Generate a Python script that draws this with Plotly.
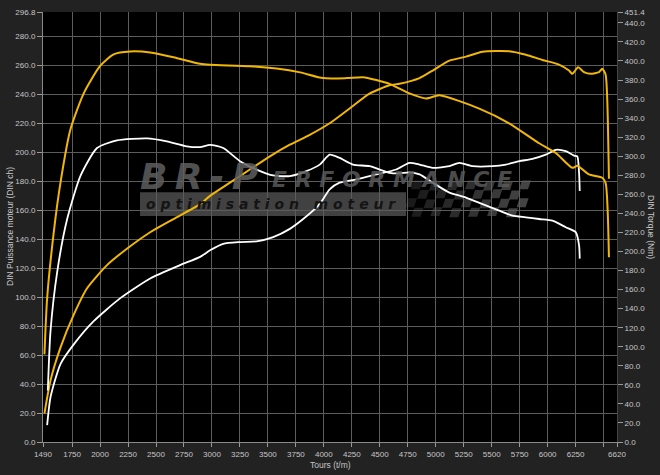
import plotly.graph_objects as go

# ---------------- data ----------------
rpm_yellow_torque = [1503, 1527, 1586, 1646, 1735, 1854, 2002, 2121, 2270, 2448, 2656, 2894, 2983,
                     3339, 3577, 3789, 3993, 4201, 4349, 4469, 4587, 4765, 4914, 5033, 5389, 5656,
                     5924, 6073, 6221, 6265, 6369, 6488, 6518, 6548]
yellow_torque = [92, 151, 220, 272, 328, 366, 395, 407, 410, 409, 404, 397, 396,
                 394.5, 392, 388, 382, 382, 383, 380, 376, 366, 360.6, 364, 350, 334.6,
                 313.6, 303.4, 287.8, 290, 280.9, 277.4, 272, 194]

rpm_yellow_power = [1503, 1557, 1646, 1765, 1884, 2062, 2240, 2448, 2656, 2894, 2983, 3161, 3339,
                    3518, 3696, 3874, 4052, 4230, 4408, 4587, 4677, 4855, 4973, 5122, 5271, 5419,
                    5657, 5806, 5953, 6102, 6191, 6221, 6272, 6325, 6385, 6459, 6488, 6518, 6533, 6548]
yellow_power = [19.6, 42.4, 65.1, 87.9, 106.1, 122.1, 133.4, 144.8, 153.9, 164.2, 169.9, 179, 188.1,
                197.2, 205.2, 212, 220, 230.2, 240.5, 246.2, 247.3, 251.2, 256.4, 263.2, 266, 269.4,
                269.7, 267.3, 263.7, 260.5, 256.4, 254.1, 258.7, 255.3, 254.1, 255.3, 257.6, 253.7, 235.9, 181.7]

rpm_white_torque = [1533, 1557, 1617, 1706, 1824, 1973, 2151, 2419, 2597, 2775, 2894, 2983, 3101,
                    3250, 3399, 3547, 3696, 3844, 3963, 4052, 4141, 4260, 4408, 4587, 4677, 4766,
                    4856, 4973, 5122, 5271, 5419, 5567, 5686, 5805, 5924, 6043, 6162, 6251, 6281, 6287]
white_torque = [54, 116.4, 178.7, 234.1, 279.2, 308.6, 316.6, 318.7, 315.6, 310.4, 309.6, 312, 308.6,
                294.8, 286, 279.8, 279.2, 284.4, 291.2, 301.6, 298.2, 291.2, 289.5, 282.6, 282, 283,
                280.9, 272.2, 261.8, 256.6, 249.7, 242.8, 237.6, 235.9, 234.1, 232.4, 225.5, 220.3, 206.5, 192.5]

rpm_white_power = [1527, 1557, 1646, 1765, 1943, 2181, 2448, 2715, 2894, 2983, 3101, 3250, 3399,
                   3547, 3696, 3815, 3934, 3993, 4052, 4141, 4290, 4469, 4647, 4766, 4856, 4973,
                   5122, 5211, 5330, 5508, 5627, 5746, 5864, 5984, 6073, 6162, 6236, 6265, 6281, 6287]
white_power = [11.6, 30.9, 53.8, 67.4, 83.4, 99.3, 112.9, 122.1, 127.8, 132.3, 136.8, 138, 138.5,
               141.4, 147.1, 153.9, 161.9, 167.6, 174.4, 179, 181.3, 184.7, 188.1, 192.7, 191.5, 189.2,
               190.4, 192.7, 190.4, 190.4, 191.5, 193.8, 195.4, 198.3, 201.7, 200.7, 197.7, 197.2, 185.8, 173.3]

x_ticks = [1490, 1750, 2000, 2250, 2500, 2750, 3000, 3250, 3500, 3750, 4000, 4250, 4500,
           4750, 5000, 5250, 5500, 5750, 6000, 6250, 6500, 6620]
x_tick_labels = ["1490", "1750", "2000", "2250", "2500", "2750", "3000", "3250", "3500", "3750",
                 "4000", "4250", "4500", "4750", "5000", "5250", "5500", "5750", "6000", "6250", "", "6620"]
y_left_ticks = [0, 20, 40, 60, 80, 100, 120, 140, 160, 180, 200, 220, 240, 260, 280, 296.8]
y_right_ticks = [0, 20, 40, 60, 80, 100, 120, 140, 160, 180, 200, 220, 240, 260, 280, 300,
                 320, 340, 360, 380, 400, 420, 440, 451.4]

X_RANGE = [1490, 6620]
YL_RANGE = [0, 296.8]
YR_RANGE = [0, 451.4]

YELLOW = "#f2b705"
WHITE = "#ffffff"
GRID = "#5c5c5c"
TXT = "#c6c6c6"
FONT = "Liberation Sans, Arial, sans-serif"

# ---------------- figure ----------------
fig = go.Figure()
line_kw = dict(shape="spline", smoothing=0.6)
fig.add_trace(go.Scatter(x=rpm_yellow_torque, y=yellow_torque, yaxis="y2", mode="lines",
                         line=dict(color=YELLOW, width=2, **line_kw), hoverinfo="skip"))
fig.add_trace(go.Scatter(x=rpm_yellow_power, y=yellow_power, yaxis="y", mode="lines",
                         line=dict(color=YELLOW, width=2, **line_kw), hoverinfo="skip"))
fig.add_trace(go.Scatter(x=rpm_white_torque, y=white_torque, yaxis="y2", mode="lines",
                         line=dict(color=WHITE, width=1.8, **line_kw), hoverinfo="skip"))
fig.add_trace(go.Scatter(x=rpm_white_power, y=white_power, yaxis="y", mode="lines",
                         line=dict(color=WHITE, width=1.8, **line_kw), hoverinfo="skip"))

ML, MR, MT, MB = 43, 43, 8, 33
W, H = 660, 475
PW, PH = W - ML - MR, H - MT - MB


def px(xp):
    return (xp - ML) / PW


def py(yp):
    return (H - MB - yp) / PH


shapes = []
# logo bar
shapes.append(dict(type="rect", xref="paper", yref="paper", layer="below",
                   x0=px(140), x1=px(406), y0=py(214), y1=py(190),
                   fillcolor="#4c4c4c", line=dict(width=0), opacity=0.85))
# checkered flag (decoration)
cell = 9.0
rows = 4
cols = 13
x_start, y_top = 402, 178
for i in range(rows):
    for j in range(cols):
        if (i + j) % 2:
            continue
        skew = 3.0 * (rows - i)
        x0 = x_start + j * cell + skew + 0.15 * j * i
        y0 = y_top + i * cell + 0.6 * (j % 3)
        x1 = x0 + cell
        y1 = y0 + cell
        path = (f"M {px(x0)} {py(y0)} L {px(x1)} {py(y0)} L {px(x1 - 3)} {py(y1)} "
                f"L {px(x0 - 3)} {py(y1)} Z")
        shapes.append(dict(type="path", xref="paper", yref="paper", layer="below", path=path,
                           fillcolor="#555555", line=dict(width=0),
                           opacity=0.3 + 0.5 * (j / (cols - 1))))

annotations = [
    dict(text="<b><i>B\u2009R\u2009-\u2009P</i></b>", x=px(138), y=py(174), xref="paper", yref="paper",
         xanchor="left", yanchor="middle", showarrow=False,
         font=dict(family="DejaVu Sans, sans-serif", size=36, color="rgba(95,95,95,0.85)")),
    dict(text="<b><i>E R F O R M A N C E</i></b>", x=px(270), y=py(177), xref="paper", yref="paper",
         xanchor="left", yanchor="middle", showarrow=False,
         font=dict(family="DejaVu Sans, sans-serif", size=22, color="rgba(90,90,90,0.85)")),
    dict(text="<b><i>o p t i m i s a t i o n   m o t e u r</i></b>", x=px(144), y=py(202),
         xref="paper", yref="paper", xanchor="left", yanchor="middle", showarrow=False,
         font=dict(family="DejaVu Sans, sans-serif", size=14, color="#141414")),
    dict(text="DIN Puissance moteur (DIN ch)", x=px(10), y=0.5, xref="paper", yref="paper",
         xanchor="center", yanchor="middle", textangle=-90, showarrow=False,
         font=dict(family=FONT, size=8.5, color=TXT)),
    dict(text="DIN Torque (Nm)", x=px(651), y=0.5, xref="paper", yref="paper",
         xanchor="center", yanchor="middle", textangle=90, showarrow=False,
         font=dict(family=FONT, size=8.5, color=TXT)),
    dict(text="Tours (t/m)", x=0.5, y=py(465), xref="paper", yref="paper",
         xanchor="center", yanchor="middle", showarrow=False,
         font=dict(family=FONT, size=8.5, color=TXT)),
]

fig.update_layout(
    width=W, height=H,
    margin=dict(l=ML, r=MR, t=MT, b=MB, pad=0),
    paper_bgcolor="#222222",
    plot_bgcolor="#000000",
    showlegend=False,
    shapes=shapes,
    annotations=annotations,
    xaxis=dict(range=X_RANGE, tickmode="array", tickvals=x_ticks, ticktext=x_tick_labels,
               showgrid=True, gridcolor=GRID, gridwidth=1, zeroline=False,
               ticks="outside", ticklen=4, tickcolor="#9a9a9a",
               showline=True, linecolor="#8a8a8a", linewidth=1,
               tickfont=dict(family=FONT, size=8, color=TXT)),
    yaxis=dict(range=YL_RANGE, tickmode="array", tickvals=y_left_ticks,
               ticktext=[f"{v:.1f}" for v in y_left_ticks],
               showgrid=True, gridcolor=GRID, gridwidth=1, zeroline=False,
               ticks="outside", ticklen=5, tickcolor="#9a9a9a",
               showline=True, linecolor="#8a8a8a", linewidth=1,
               tickfont=dict(family=FONT, size=8, color=TXT)),
    yaxis2=dict(range=YR_RANGE, overlaying="y", side="right", tickmode="array",
                tickvals=y_right_ticks, ticktext=[f"{v:.1f}" for v in y_right_ticks],
                showgrid=False, zeroline=False,
                ticks="outside", ticklen=5, tickcolor="#9a9a9a",
                showline=True, linecolor="#444444", linewidth=1,
                tickfont=dict(family=FONT, size=8, color=TXT)),
)

fig.write_html("out.html", config={"displayModeBar": False},
               post_script="document.body.style.margin='0';document.body.style.overflow='hidden';")
